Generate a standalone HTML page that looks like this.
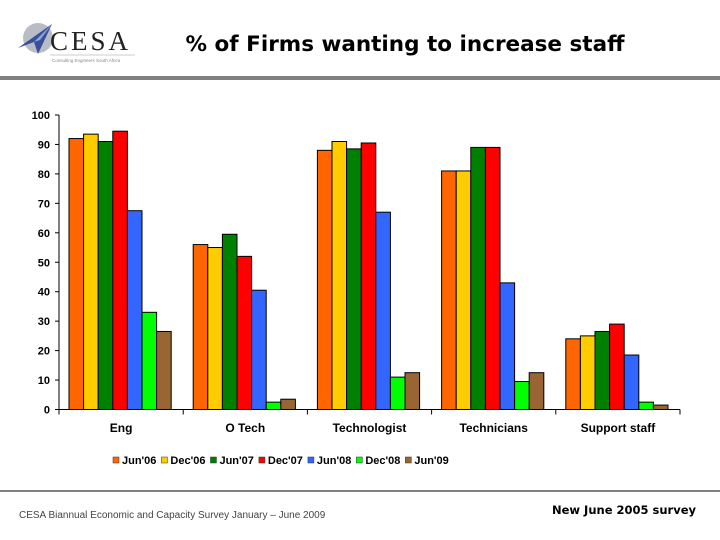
<!DOCTYPE html>
<html><head><meta charset="utf-8"><style>
body{margin:0;background:#fff;}
svg{display:block;font-family:"Liberation Sans",sans-serif;}
</style></head><body>
<svg width="720" height="540" viewBox="0 0 720 540">
<g>
<circle cx="38" cy="38" r="15" fill="#b8bcc4"/>
<polygon points="18,48 52,24 38,54 34,42" fill="#3a4f9a"/>
<polygon points="34,42 52,24 40,40" fill="#8fa6d8"/>
<text x="50" y="50" font-family="Liberation Serif,serif" font-size="27" fill="#222" letter-spacing="3">CESA</text>
<line x1="50" y1="55" x2="135" y2="55" stroke="#bbb" stroke-width="0.7"/>
<text x="52" y="62" font-size="4.5" fill="#888">Consulting Engineers South Africa</text>
</g>
<text x="405" y="51" text-anchor="middle" font-family="DejaVu Sans,sans-serif" font-weight="bold" font-size="21.5" fill="#000">% of Firms wanting to increase staff</text>
<rect x="0" y="76" width="720" height="4" fill="#808080"/>
<g id="chart"></g>
<rect x="0" y="490" width="720" height="2" fill="#808080"/>
<text x="19" y="518" font-size="10" fill="#444">CESA Biannual Economic and Capacity Survey January – June 2009</text>
<text x="696" y="514" text-anchor="end" font-family="DejaVu Sans,sans-serif" font-weight="bold" font-size="11.5" fill="#000">New June 2005 survey</text>
</svg>
<script>
const categories=["Eng","O Tech","Technologist","Technicians","Support staff"];
const seriesNames=["Jun'06","Dec'06","Jun'07","Dec'07","Jun'08","Dec'08","Jun'09"];
const jun06=[92,56,88,81,24];
const dec06=[93.5,55,91,81,25];
const jun07=[91,59.5,88.5,89,26.5];
const dec07=[94.5,52,90.5,89,29];
const jun08=[67.5,40.5,67,43,18.5];
const dec08=[33,2.5,11,9.5,2.5];
const jun09=[26.5,3.5,12.5,12.5,1.5];
const yTicks=[0,10,20,30,40,50,60,70,80,90,100];
const series=[jun06,dec06,jun07,dec07,jun08,dec08,jun09];
const colors=["#ff6600","#ffcc00","#008000","#ff0000","#3366ff","#00ff00","#996633"];
const NS="http://www.w3.org/2000/svg";
const g=document.getElementById('chart');
const x0=59,x1=680,yBase=409.5,yTop=115;
const yS=v=>yBase-(yBase-yTop)*v/100;
const catW=(x1-x0)/categories.length;
const barW=14.6,padL=10;
function mk(t,a){const e=document.createElementNS(NS,t);for(const k in a)e.setAttribute(k,a[k]);g.appendChild(e);return e;}
let e=mk('line',{x1:x0,y1:yTop,x2:x0,y2:yBase,stroke:'#000','stroke-width':1});


e=mk('line',{x1:x0-4,y1:yBase,x2:x1,y2:yBase,stroke:'#000','stroke-width':1});


yTicks.forEach(v=>{
 const l=mk('line',{x1:x0-4,y1:yS(v),x2:x0,y2:yS(v),stroke:'#000'});
 
 
 const t=mk('text',{x:x0-9,y:yS(v)+4,'text-anchor':'end','font-size':11,'font-weight':'bold'});
 t.textContent=v;
 
 
});
for(let i=0;i<=categories.length;i++){
 const l=mk('line',{x1:x0+i*catW,y1:yBase,x2:x0+i*catW,y2:yBase+5,stroke:'#000'});
 
 
}
categories.forEach((c,i)=>{
 const t=mk('text',{x:x0+i*catW+catW/2,y:432,'text-anchor':'middle','font-size':12,'font-weight':'bold'});
 t.textContent=c;
 
 
 series.forEach((s,j)=>{
  const v=s[i];
  const r=mk('rect',{x:x0+i*catW+padL+j*barW,y:yS(v),width:barW,height:yBase-yS(v),fill:colors[j],stroke:'#000','stroke-width':1});
  
  
 });
});
let lx=113;
seriesNames.forEach((n,j)=>{
 const r=mk('rect',{x:lx,y:457,width:6,height:6,fill:colors[j],stroke:'#333','stroke-width':0.5});
 
 
 const t=mk('text',{x:lx+9,y:464,'font-size':11,'font-weight':'bold'});
 t.textContent=n;
 
 
 lx+=9+t.getComputedTextLength()+5;
});
</script>
</body></html>
